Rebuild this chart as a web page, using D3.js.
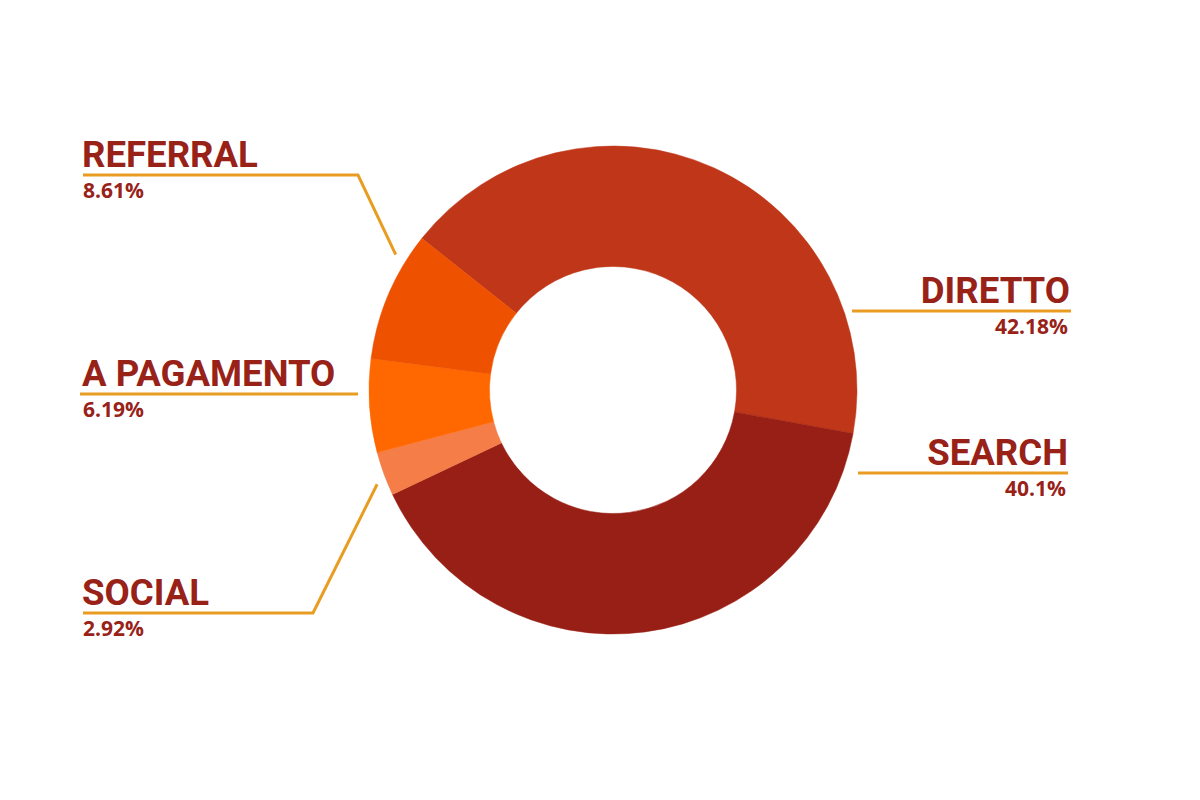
<!DOCTYPE html>
<html>
<head>
    <meta charset="utf-8">
    <title>Sorgenti di traffico</title>
    <script src="https://d3js.org/d3.v7.min.js"></script>
    <style>
        body { margin: 0; background: #fff; }
        .label { font-family: Roboto, "Noto Sans", sans-serif; font-weight: 700; font-size: 36.6px; fill: #982218; }
        .pct { font-family: "Open Sans", "Noto Sans", sans-serif; font-weight: 700; font-size: 21px; fill: #982218; }
        .leader { fill: none; stroke: #e89d22; stroke-width: 3; }
    </style>
</head>
<body>
    <div id="chart"></div>
    <script>
        // Data
        const categories = ["DIRETTO", "SEARCH", "SOCIAL", "A PAGAMENTO", "REFERRAL"];
        const values = [42.18, 40.1, 2.92, 6.19, 8.61];
        const pctLabels = ["42.18%", "40.1%", "2.92%", "6.19%", "8.61%"];
        const colors = ["#bf3618", "#981f15", "#f47d48", "#ff6800", "#ee5100"];

        // Set up dimensions
        const width = 1200;
        const height = 800;
        const cx = 613, cy = 390;
        const outerR = 244, innerR = 123.5;
        const startAngle = -0.9;

        const svg = d3.select("#chart")
            .append("svg")
            .attr("width", width)
            .attr("height", height);

        const pie = d3.pie()
            .value(d => d.value)
            .sort(null)
            .startAngle(startAngle)
            .endAngle(startAngle + 2 * Math.PI);

        const arc = d3.arc().innerRadius(innerR).outerRadius(outerR);

        const data = categories.map((c, i) => ({ name: c, value: values[i], pct: pctLabels[i], color: colors[i] }));
        const arcs = pie(data);

        const g = svg.append("g").attr("transform", `translate(${cx},${cy})`);
        g.selectAll("path")
            .data(arcs)
            .enter()
            .append("path")
            .attr("d", arc)
            .attr("fill", d => d.data.color)
            .attr("stroke", d => d.data.color)
            .attr("stroke-width", 0.5);

        // Label layout: side, text x, line y, line ends, and where the diagonal hits the ring
        const layout = {
            "DIRETTO":     { anchor: "end",   x: 1070, lineY: 311, x1: 852, x2: 1071 },
            "SEARCH":      { anchor: "end",   x: 1068, lineY: 473, x1: 858, x2: 1068 },
            "REFERRAL":    { anchor: "start", x: 82,   lineY: 175, x1: 83,  x2: 358, frac: 0.79, r: 256 },
            "A PAGAMENTO": { anchor: "start", x: 82,   lineY: 394, x1: 80,  x2: 358 },
            "SOCIAL":      { anchor: "start", x: 82,   lineY: 613, x1: 83,  x2: 313, frac: 0.34, r: 254 }
        };

        arcs.forEach(function(d) {
            const L = layout[d.data.name];
            const pts = [[L.x1, L.lineY], [L.x2, L.lineY]];
            if (L.frac !== undefined) {
                const a = d.startAngle + (d.endAngle - d.startAngle) * L.frac;
                pts.push([cx + L.r * Math.sin(a), cy - L.r * Math.cos(a)]);
            }
            svg.append("path")
                .attr("class", "leader")
                .attr("d", d3.line()(pts));

            svg.append("text")
                .attr("class", "label")
                .attr("x", L.x)
                .attr("y", L.lineY - 8)
                .attr("text-anchor", L.anchor)
                .text(d.data.name);

            svg.append("text")
                .attr("class", "pct")
                .attr("x", L.anchor === "end" ? L.x - 2 : L.x + 1)
                .attr("y", L.lineY + 23)
                .attr("text-anchor", L.anchor)
                .text(d.data.pct);
        });
    </script>
</body>
</html>
